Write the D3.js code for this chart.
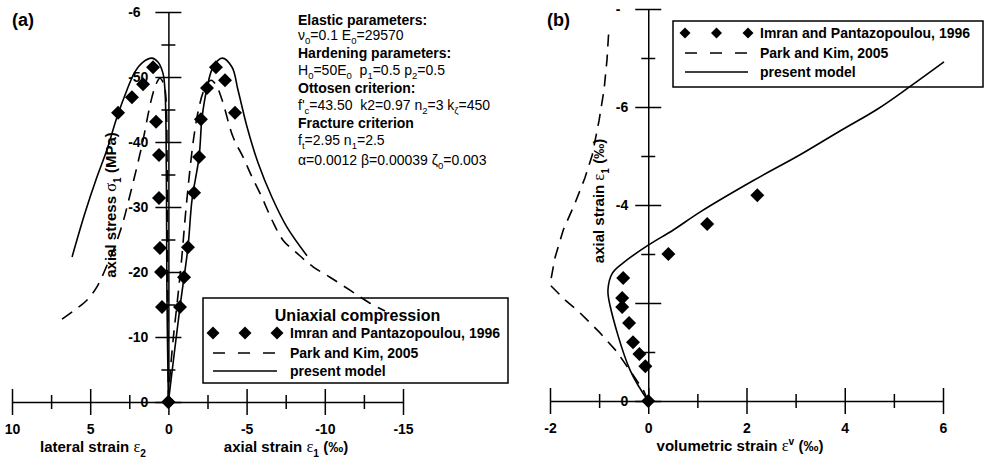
<!DOCTYPE html>
<html><head><meta charset="utf-8">
<script src="https://cdn.jsdelivr.net/npm/d3@7"></script>
<style>
body{margin:0;background:#fff}
svg{display:block}
text{font-family:"Liberation Sans",Arial,Helvetica,sans-serif;white-space:pre}
</style>
</head><body>
<svg id="chart" width="984" height="461"></svg>
<script>
// ---------------- DATA ----------------
// Panel (a): axis ticks
const aXTicks = [10, 5, 0, -5, -10, -15];
const aXMinor = [7.5, 2.5, -2.5, -7.5, -12.5];
const aYTicks = [0, -10, -20, -30, -40, -50, -60];
const aYMinor = [-5, -15, -25, -35, -45, -55];

// Panel (a): Imran and Pantazopoulou, 1996 (experiment)
const expLatStrain = [0, 0.41, 0.47, 0.54, 0.60, 0.60, 0.79, 0.98, 1.62, 2.33, 3.22];
const expLatStress = [0, -14.6, -20.0, -23.7, -31.4, -38.0, -43.1, -51.5, -48.9, -46.9, -44.5];
const expAxStrain  = [0, -0.74, -1.00, -1.25, -1.64, -1.96, -2.08, -2.47, -3.04, -3.62, -4.26];
const expAxStress  = [0, -14.6, -19.2, -23.8, -32.2, -37.7, -43.5, -48.3, -51.5, -49.5, -44.5];

// Panel (a): present model
const presAxStrain  = [0, -0.74, -1.25, -1.51, -1.96, -2.15, -2.47, -2.85, -3.43, -4.07, -4.45, -5.03, -5.73, -6.62, -7.58, -8.86];
const presAxStress  = [0, -14.6, -23.8, -31.1, -37.7, -43.7, -48.3, -51.5, -52.9, -51.5, -48.0, -42.3, -36.8, -31.5, -26.9, -22.5];
const presLatStrain = [0, 0.09, 0.12, 0.15, 0.22, 0.35, 0.67, 1.05, 1.62, 2.14, 2.65, 3.29, 3.93, 4.57, 5.33, 6.16];
const presLatStress = [0, -15.7, -31.1, -41.8, -48.0, -50.6, -52.3, -52.9, -52.3, -50.8, -48.0, -43.8, -38.8, -34.6, -29.1, -22.3];

// Panel (a): Park and Kim, 2005
const pkAxStrain  = [0, -0.13, -0.32, -0.58, -0.84, -1.09, -1.34, -1.60, -1.92, -2.28, -2.72, -3.04, -3.43, -4.13, -4.77, -5.35, -5.98, -6.62, -7.33, -8.22, -9.25, -10.33, -11.61, -12.89, -13.85];
const pkAxStress  = [0, -4.9, -10.0, -15.7, -21.8, -28.8, -34.9, -40.3, -44.9, -48.0, -49.5, -48.8, -46.5, -40.8, -37.7, -34.6, -31.5, -28.0, -24.9, -22.9, -20.8, -19.2, -17.2, -15.2, -14.0];
const pkLatStrain = [0, 0.06, 0.09, 0.15, 0.28, 0.54, 0.79, 1.05, 1.30, 1.62, 2.01, 2.46, 2.90, 3.41, 3.86, 4.57, 5.20, 5.97, 7.06];
const pkLatStress = [0, -23.4, -38.8, -46.5, -48.8, -49.8, -48.9, -46.9, -44.2, -40.3, -36.2, -31.8, -27.7, -24.0, -21.4, -17.7, -15.7, -14.2, -12.3];

// Panel (b): axis ticks
const bXTicks = [-2, 0, 2, 4, 6];
const bXMinor = [-1, 1, 3, 5];
const bYTicks = [0, -2, -4, -6, -8];
const bYMinor = [-1, -3, -5, -7];

// Panel (b): experiment
const expVol   = [0, -0.06, -0.18, -0.31, -0.39, -0.53, -0.53, -0.51, 0.41, 1.20, 2.22];
const expAxial = [0, -0.71, -0.96, -1.20, -1.59, -1.92, -2.10, -2.51, -3.00, -3.61, -4.20];
// Panel (b): present model
const presVol   = [0, -0.37, -0.78, -0.82, -0.73, -0.51, 0, 0.51, 1.06, 2.14, 3.10, 3.92, 4.67, 5.29, 6.02];
const presAxial = [0, -0.63, -1.96, -2.27, -2.61, -2.82, -3.18, -3.49, -3.86, -4.50, -5.03, -5.52, -5.96, -6.39, -6.92];
// Panel (b): Park and Kim
const pkVol   = [0, -0.10, -0.35, -0.65, -1.00, -1.39, -1.69, -2.00, -1.90, -1.73, -1.49, -1.29, -1.14, -1.00, -0.90, -0.84, -0.80];
const pkAxial = [0, -0.22, -0.59, -1.02, -1.41, -1.80, -2.06, -2.37, -2.92, -3.49, -4.04, -4.55, -5.02, -5.73, -6.35, -6.96, -7.61];

// Texts
const paramLines = [
  ["Elastic parameters:", true],
  ["ν_{0}=0.1 E_{0}=29570", false],
  ["Hardening parameters:", true],
  ["H_{0}=50E_{0}  p_{1}=0.5 p_{2}=0.5", false],
  ["Ottosen criterion:", true],
  ["f'_{c}=43.50  k2=0.97 n_{2}=3 k_{ζ}=450", false],
  ["Fracture criterion", true],
  ["f_{t}=2.95 n_{1}=2.5", false],
  ["α=0.0012 β=0.00039 ζ_{0}=0.003", false]
];
const legendTitleA = "Uniaxial compression";
const seriesNames = ["Imran and Pantazopoulou, 1996", "Park and Kim, 2005", "present model"];

// ---------------- DRAWING ----------------
const svg = d3.select('#chart');
const FONT = '"Liberation Sans",Arial,Helvetica,sans-serif';
const defs = svg.append('defs');

const xA = d3.scaleLinear().domain([10, -15]).range([12, 403]);
const yA = d3.scaleLinear().domain([0, -60]).range([402, 12]);
const xB = d3.scaleLinear().domain([-2, 6]).range([550, 943]);
const yB = d3.scaleLinear().domain([0, -8]).range([401, 9]);

// rich text: _{..} subscript, ^{..} superscript, greek letters in normal weight
function rich(t, str, size, greekSerif) {
  const parts = str.split(/(_\{[^}]*\}|\^\{[^}]*\})/).filter(s => s.length);
  let cur = 0;
  parts.forEach(p => {
    let target = 0, txt = p, fs = size;
    if (p.startsWith('_{')) { target = size * 0.3; txt = p.slice(2, -1); fs = size * 0.68; }
    else if (p.startsWith('^{')) { target = -size * 0.4; txt = p.slice(2, -1); fs = size * 0.68; }
    const runs = txt.split(/([\u0370-\u03FF]+)/).filter(s => s.length);
    runs.forEach((r, i) => {
      const ts = t.append('tspan').attr('font-size', fs).text(r);
      if (i === 0) ts.attr('dy', target - cur);
      if (/[\u0370-\u03FF]/.test(r)) {
        ts.attr('font-weight', 'normal');
        if (greekSerif) ts.attr('font-family', '"Liberation Serif","Times New Roman",serif').attr('font-size', fs * 1.1);
      }
    });
    cur = target;
  });
}

function drawAxes(xs, ys, xMaj, xMin, yMaj, yMin, yLabelSkip, clipVal, clipId, clipCut) {
  const gx = svg.append('g').attr('transform', `translate(0,${ys(0)})`);
  gx.call(d3.axisBottom(xs).tickValues(xMaj).tickSize(13).tickSizeOuter(0).tickPadding(9).tickFormat(d => String(d)));
  gx.selectAll('.tick line').attr('y1', -13);
  const gxm = gx.append('g');
  gxm.call(d3.axisBottom(xs).tickValues(xMin).tickSize(7).tickFormat(''));
  gxm.select('.domain').remove();
  gxm.selectAll('.tick line').attr('y1', -7);

  const gy = svg.append('g').attr('transform', `translate(${xs(0)},0)`);
  gy.call(d3.axisLeft(ys).tickValues(yMaj).tickSize(13).tickSizeOuter(0).tickPadding(7)
    .tickFormat(d => yLabelSkip.includes(d) ? '' : String(d)));
  gy.selectAll('.tick line').attr('x1', 13);
  const gym = gy.append('g');
  gym.call(d3.axisLeft(ys).tickValues(yMin).tickSize(7).tickFormat(''));
  gym.select('.domain').remove();
  gym.selectAll('.tick line').attr('x1', 7);

  // truncated top label (as in the original figure)
  defs.append('clipPath').attr('id', clipId).append('rect')
    .attr('x', -70).attr('y', -15).attr('width', 70 - 20 - clipCut).attr('height', 30);
  gy.selectAll('.tick').filter(d => d === clipVal).select('text').attr('clip-path', `url(#${clipId})`);

  [gx, gy].forEach(g => {
    g.attr('font-size', 14).attr('font-family', FONT).attr('font-weight', 'bold');
    g.selectAll('path.domain, .tick line').attr('stroke', '#000').attr('stroke-width', 1.5);
    g.selectAll('.tick text').attr('fill', '#000');
  });
}

function curve(xs, ys, X, Y, dashed, linear) {
  const pts = X.map((v, i) => [xs(v), ys(Y[i])]);
  svg.append('path')
    .attr('d', d3.line().curve(linear ? d3.curveLinear : d3.curveCatmullRom.alpha(0.5))(pts))
    .attr('fill', 'none').attr('stroke', '#000').attr('stroke-width', 1.6)
    .attr('stroke-dasharray', dashed ? '12,8' : null);
}
function diamonds(xs, ys, X, Y, r) {
  svg.append('g').selectAll('path').data(X.map((v, i) => [v, Y[i]])).join('path')
    .attr('transform', d => `translate(${xs(d[0])},${ys(d[1])})`)
    .attr('d', `M0,${-r}L${r},0L0,${r}L${-r},0Z`).attr('fill', '#000');
}

// ---- Panel (a)
drawAxes(xA, yA, aXTicks, aXMinor, aYTicks, aYMinor, [], -60, 'clipA', 7.6);
curve(xA, yA, pkAxStrain, pkAxStress, true);
curve(xA, yA, pkLatStrain, pkLatStress, true);
curve(xA, yA, presAxStrain, presAxStress, false);
curve(xA, yA, presLatStrain, presLatStress, false);
diamonds(xA, yA, expAxStrain, expAxStress, 7);
diamonds(xA, yA, expLatStrain, expLatStress, 7);

// ---- Panel (b)
drawAxes(xB, yB, bXTicks, bXMinor, bYTicks, bYMinor, [-2], -8, 'clipB', 7.6);
curve(xB, yB, pkVol, pkAxial, true, true);
curve(xB, yB, presVol, presAxial, false);
diamonds(xB, yB, expVol, expAxial, 7);

// ---- Panel labels
svg.append('text').attr('x', 12).attr('y', 26).attr('font-size', 18).attr('font-weight', 'bold').text('(a)');
svg.append('text').attr('x', 547).attr('y', 26).attr('font-size', 18).attr('font-weight', 'bold').text('(b)');

// ---- Axis titles
function title(x, y, str, rot) {
  const t = svg.append('text').attr('font-size', 15).attr('font-weight', 'bold').attr('text-anchor', 'middle')
    .attr('transform', `translate(${x},${y})` + (rot ? ' rotate(-90)' : ''));
  rich(t, str, 15, true);
}
title(93, 452, 'lateral strain ε_{2}', false);
title(286, 452, 'axial strain ε_{1} (‰)', false);
title(116, 205, 'axial stress σ_{1} (MPa)', true);
title(740, 451, 'volumetric strain ε^{v} (‰)', false);
title(604, 201, 'axial strain ε_{1} (‰)', true);

// ---- Parameter annotation
const paramY = [25, 40, 58, 75, 93, 110, 128, 145, 165];
paramLines.forEach((l, i) => {
  const t = svg.append('text').attr('x', 298).attr('y', paramY[i]).attr('font-size', 14)
    .attr('font-weight', l[1] ? 'bold' : 'normal');
  rich(t, l[0], 14, false);
});

// ---- Legends
function legend(x0, y0, w, h, rowsY, symX, textX, r, titleTxt, titleY) {
  svg.append('rect').attr('x', x0).attr('y', y0).attr('width', w).attr('height', h)
    .attr('fill', 'none').attr('stroke', '#000').attr('stroke-width', 1.5);
  if (titleTxt) svg.append('text').attr('x', x0 + w / 2 + 2).attr('y', titleY).attr('text-anchor', 'middle')
    .attr('font-size', 16).attr('font-weight', 'bold').text(titleTxt);
  const sx = d3.scaleLinear().domain([0, 1]).range(symX);
  [0, 0.5, 1].forEach(f => {
    svg.append('path').attr('transform', `translate(${sx(f)},${rowsY[0]})`)
      .attr('d', `M0,${-r}L${r},0L0,${r}L${-r},0Z`).attr('fill', '#000');
  });
  svg.append('line').attr('x1', symX[0]).attr('x2', symX[1]).attr('y1', rowsY[1]).attr('y2', rowsY[1])
    .attr('stroke', '#000').attr('stroke-width', 1.6).attr('stroke-dasharray', '12,13');
  svg.append('line').attr('x1', symX[0]).attr('x2', symX[1]).attr('y1', rowsY[2]).attr('y2', rowsY[2])
    .attr('stroke', '#000').attr('stroke-width', 1.6);
  seriesNames.forEach((n, i) => {
    svg.append('text').attr('x', textX).attr('y', rowsY[i] + 5).attr('font-size', 14).attr('font-weight', 'bold').text(n);
  });
}
legend(203, 298, 305, 85, [333, 353, 371], [213, 277], 290, 6.5, legendTitleA, 321);
legend(673, 21, 310, 66, [33, 53, 72], [685, 748], 760, 5.5, null, 0);
</script>
</body></html>
